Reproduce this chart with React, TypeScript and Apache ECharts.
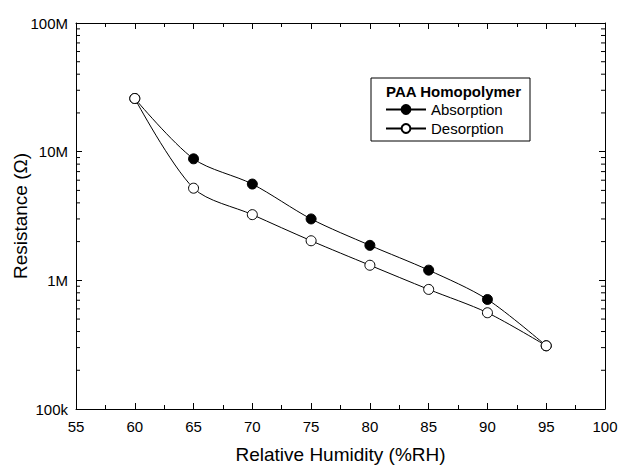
import React, { useEffect, useRef } from "react";
import * as echarts from "echarts";

// Relative humidity (%RH) and resistance (Ω) of the PAA homopolymer sensor
const humidity = [60, 65, 70, 75, 80, 85, 90, 95];
const absorption = [25.9e6, 8.8e6, 5.6e6, 3.0e6, 1.87e6, 1.2e6, 0.71e6, 0.31e6];
const desorption = [25.9e6, 5.2e6, 3.24e6, 2.03e6, 1.31e6, 0.85e6, 0.56e6, 0.31e6];

// Axis ranges and tick labels
const xMin = 55;
const xMax = 100;
const xStep = 5;
const yMin = 1e5;
const yMax = 1e8;
const yTickLabels: Record<string, string> = {
  "100000": "100k",
  "1000000": "1M",
  "10000000": "10M",
  "100000000": "100M",
};
// Minor log ticks (2..9 within each decade)
const decades = [1e5, 1e6, 1e7];
const steps = [2, 3, 4, 5, 6, 7, 8, 9];
const minorTicks = decades.flatMap((d) => steps.map((s) => d * s));

const FONT = "'Liberation Sans', Arial, sans-serif";

export default function App() {
  const ref = useRef<HTMLDivElement>(null);

  useEffect(() => {
    if (!ref.current) return;
    const chart = echarts.init(ref.current, undefined, { renderer: "svg" });

    const axisLine = { show: true, lineStyle: { color: "#000", width: 1 } };
    const xTick = { show: true, inside: true, length: 6, lineStyle: { color: "#000" } };
    const xMinor = { show: true, splitNumber: 2, length: 4, lineStyle: { color: "#000" } };

    chart.setOption({
      animation: false,
      backgroundColor: "#fff",
      textStyle: { fontFamily: FONT },
      grid: { left: 76, right: 15, top: 23, bottom: 57, outerBoundsMode: "none", containLabel: false },
      xAxis: [
        {
          type: "value",
          min: xMin,
          max: xMax,
          interval: xStep,
          position: "bottom",
          axisLine,
          axisTick: xTick,
          minorTick: xMinor,
          splitLine: { show: false },
          axisLabel: { color: "#000", fontSize: 15, margin: 10, fontFamily: FONT },
          name: "Relative Humidity (%RH)",
          nameLocation: "middle",
          nameGap: 36,
          nameMoveOverlap: false,
          nameTextStyle: { color: "#000", fontSize: 19, fontFamily: FONT },
        },
        {
          type: "value",
          min: xMin,
          max: xMax,
          interval: xStep,
          position: "top",
          axisLine,
          axisTick: xTick,
          minorTick: xMinor,
          splitLine: { show: false },
          axisLabel: { show: false },
        },
      ],
      yAxis: [
        {
          type: "log",
          logBase: 10,
          min: yMin,
          max: yMax,
          position: "left",
          axisLine,
          axisTick: { show: true, inside: true, length: 6, lineStyle: { color: "#000" } },
          splitLine: { show: false },
          axisLabel: {
            color: "#000",
            fontSize: 15,
            margin: 8,
            fontFamily: FONT,
            formatter: (v: number) => yTickLabels[String(Math.round(v))] ?? "",
          },
          name: "Resistance (Ω)",
          nameLocation: "middle",
          nameGap: 46,
          nameMoveOverlap: false,
          nameRotate: 90,
          nameTextStyle: { color: "#000", fontSize: 19, fontFamily: FONT },
        },
        {
          type: "log",
          logBase: 10,
          min: yMin,
          max: yMax,
          position: "right",
          axisLine,
          axisTick: { show: true, inside: true, length: 6, lineStyle: { color: "#000" } },
          splitLine: { show: false },
          axisLabel: { show: false },
        },
      ],
      legend: {
        orient: "vertical",
        left: 385,
        top: 102,
        itemWidth: 40,
        itemHeight: 11,
        itemGap: 4,
        padding: 0,
        z: 20,
        textStyle: { color: "#000", fontSize: 15, fontFamily: FONT },
        data: ["Absorption", "Desorption"],
      },
      graphic: [
        {
          type: "rect",
          shape: { x: 371, y: 78, width: 159, height: 63 },
          style: { fill: "#fff", stroke: "#000", lineWidth: 1 },
          z: 2,
        },
        {
          type: "text",
          x: 386,
          y: 84,
          style: {
            text: "PAA Homopolymer",
            fill: "#000",
            fontSize: 15,
            fontWeight: "bold",
            fontFamily: FONT,
          },
          z: 3,
        },
      ],
      series: [
        {
          name: "minor",
          type: "custom",
          xAxisIndex: 0,
          yAxisIndex: 0,
          silent: true,
          clip: false,
          data: minorTicks,
          renderItem: (params: any, api: any) => {
            const v = api.value(0);
            const l = api.coord([xMin, v]);
            const r = api.coord([xMax, v]);
            const style = { stroke: "#000", lineWidth: 1 };
            return {
              type: "group",
              children: [
                { type: "line", shape: { x1: l[0], y1: l[1], x2: l[0] + 4, y2: l[1] }, style },
                { type: "line", shape: { x1: r[0], y1: r[1], x2: r[0] - 4, y2: r[1] }, style },
              ],
            };
          },
          encode: { x: -1, y: 0 },
          dimensions: ["v"],
          z: 1,
        },
        {
          name: "Absorption",
          type: "line",
          smooth: 0.3,
          data: humidity.map((h, i) => [h, absorption[i]]),
          symbol: "circle",
          symbolSize: 10,
          showAllSymbol: true,
          lineStyle: { color: "#000", width: 1 },
          itemStyle: { color: "#000", borderColor: "#000", borderWidth: 1 },
          z: 3,
        },
        {
          name: "Desorption",
          type: "line",
          smooth: 0.3,
          data: humidity.map((h, i) => [h, desorption[i]]),
          symbol: "circle",
          symbolSize: 10,
          showAllSymbol: true,
          lineStyle: { color: "#000", width: 1 },
          itemStyle: { color: "#fff", borderColor: "#000", borderWidth: 1 },
          z: 4,
        },
      ],
    });

    return () => chart.dispose();
  }, []);

  return <div ref={ref} style={{ width: 620, height: 466, position: "absolute", left: 0, top: 0 }} />;
}
